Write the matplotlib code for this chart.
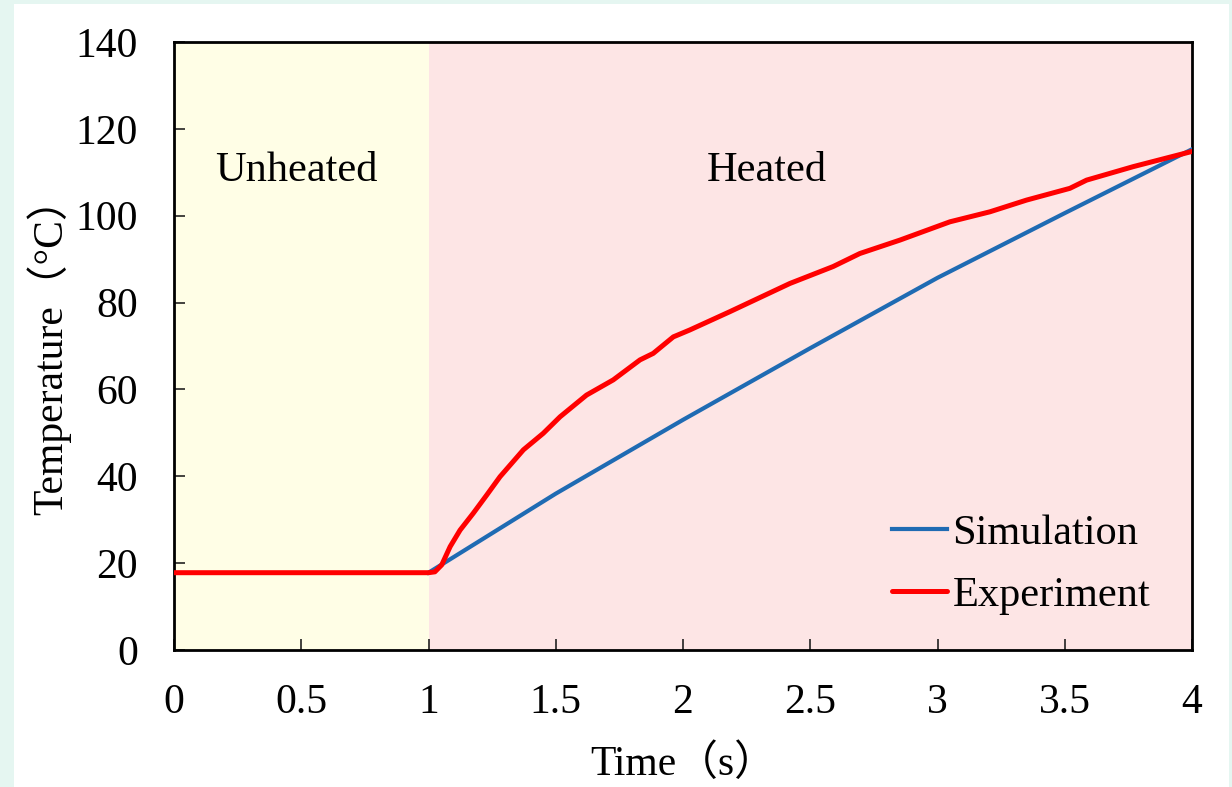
import matplotlib

matplotlib.use("Agg")
import matplotlib.pyplot as plt
from matplotlib.patches import Rectangle

# --- data ---
sim_t = [1.0, 1.5, 2.0, 2.5, 3.0, 3.5, 4.0]
sim_T = [17.8, 36.0, 53.0, 69.5, 85.7, 100.6, 115.3]

exp_t = [0.0, 0.5, 1.0, 1.025, 1.052, 1.085, 1.124, 1.176, 1.229, 1.281,
         1.373, 1.451, 1.517, 1.569, 1.621, 1.726, 1.831, 1.883, 1.962, 2.027,
         2.184, 2.42, 2.59, 2.695, 2.853, 3.049, 3.206, 3.35, 3.52, 3.586,
         3.769, 4.0]
exp_T = [17.8, 17.8, 17.8, 18.0, 19.6, 23.8, 27.6, 31.5, 35.7, 39.9,
         46.1, 49.9, 53.7, 56.2, 58.7, 62.2, 66.8, 68.3, 72.1, 73.7,
         77.9, 84.4, 88.3, 91.3, 94.4, 98.6, 100.9, 103.6, 106.3, 108.2,
         111.3, 114.8]

regions = [(0, 1, "#fffee6", "Unheated", 0.48), (1, 4, "#fde5e5", "Heated", 2.33)]
x_ticks = [0, 0.5, 1, 1.5, 2, 2.5, 3, 3.5, 4]
x_tick_labels = ["0", "0.5", "1", "1.5", "2", "2.5", "3", "3.5", "4"]
y_ticks = [0, 20, 40, 60, 80, 100, 120, 140]

plt.rcParams["font.family"] = ["Liberation Serif", "Noto Sans CJK JP"]

fig = plt.figure(figsize=(12.32, 7.87), dpi=100, facecolor="#e5f6f1")
fig.patches.append(Rectangle((14 / 1232, 0), 1215 / 1232, 1 - 4 / 787,
                             transform=fig.transFigure, facecolor="white",
                             edgecolor="none", zorder=-10))
ax = fig.add_axes([174 / 1232, 1 - 650 / 787, 1018 / 1232, 608 / 787])

for x0, x1, col, name, xt in regions:
    ax.axvspan(x0, x1, color=col, lw=0, zorder=0)
    ax.text(xt, 110.3, name, fontsize=30.5, ha="center", va="center")

ax.plot(sim_t, sim_T, color="#1f6bb3", lw=3.0, label="Simulation", zorder=3)
ax.plot(exp_t, exp_T, color="#ff0000", lw=3.6, label="Experiment", zorder=4,
        solid_capstyle="round", solid_joinstyle="round")

ax.set_xlim(0, 4)
ax.set_ylim(0, 140)
ax.set_xticks(x_ticks)
ax.set_xticklabels(x_tick_labels)
ax.set_yticks(y_ticks)
ax.tick_params(direction="in", length=8, width=1.2, labelsize=30, color="#222222")
ax.tick_params(axis="y", pad=26)
ax.tick_params(axis="x", pad=24)
for s in ax.spines.values():
    s.set_linewidth(2.0)
    s.set_color("black")

ax.set_xlabel("Time（s）", fontsize=30, labelpad=16)
ax.set_ylabel("Temperature（°C）", fontsize=30, labelpad=3)

ax.legend(loc="lower right", bbox_to_anchor=(0.959, 0.058), frameon=False,
          fontsize=30.5, handlelength=1.3, handletextpad=0.12, labelspacing=0.55,
          borderaxespad=0, borderpad=0)

fig.savefig("out.png", dpi=100, facecolor=fig.get_facecolor())
